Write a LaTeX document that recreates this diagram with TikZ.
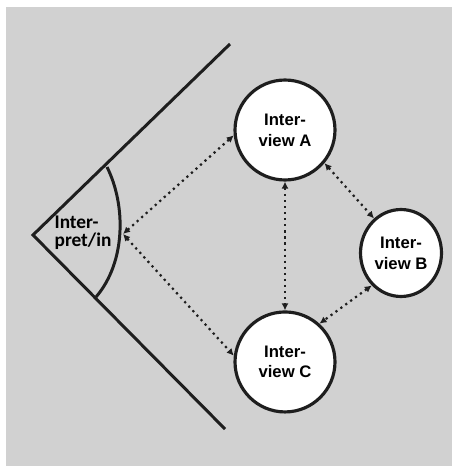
\documentclass[tikz,border=0pt]{standalone}
\usepackage{fontspec}
\setmainfont{Liberation Sans}
\newfontfamily\interpfont{Carlito}
\usepackage{xcolor}
\definecolor{PanelGray}{RGB}{209,209,209}
\definecolor{InkBlack}{RGB}{30,30,30}
\usetikzlibrary{positioning}
\usetikzlibrary{arrows.meta}
\usetikzlibrary{shapes.geometric}

\begin{document}
\begin{tikzpicture}[
    x = 0.02cm, y = -0.02cm
    , n/.style = {
      , circle
      , minimum size = 2cm
      , inner sep = 0pt
      , draw = InkBlack
      , line width = 1.8pt
      , fill = white
      , align = center
      , font = \fontsize{9.5}{11.8}\selectfont\bfseries
    }
    , interview/.style = {
      n
    }
    , wideview/.style = {
      n,
      ellipse,
      minimum width = 1.62cm,
      minimum height = 1.74cm
    }
    , wall/.style = {
      , draw = InkBlack
      , line width = 1.7pt
    }
    , link/.style = {
      , <->
      , >={Latex[length=4pt, width=4pt]}
      , draw = InkBlack
      , line width = 1.25pt
      , dash pattern = on 1.25pt off 2.2pt
    }
    , biglabel/.style = {
      , align = left
      , inner sep = 0pt
      , font = \interpfont\fontsize{11}{10.2}\selectfont\bfseries
    }
    , on grid
    , node distance = 4.64cm
    ]
    \useasboundingbox (0,0) rectangle (452,466);
    \fill[PanelGray] (6,7) rectangle (452,466);

    % the wedge and its arc
    \coordinate (apex) at (33,235);
    \coordinate (upper) at (230,44);
    \coordinate (lower) at (225,429);
    \coordinate (archi) at (107,167);
    \coordinate (arclo) at (96,297);
    \coordinate (focus) at (123,234);

    \draw[wall] (upper) -- (apex) -- (lower);
    \draw[wall] (archi) .. controls (126,205) and (126,262) .. (arclo);

    \node[biglabel] (interp) at (83,233) {Inter-\\pret/in};

    \node[interview] (A) at (285,130) {Inter-\\view A};
    \node[interview, below = of A] (C) {Inter-\\view C};
    \node[wideview] (B) at (401,253) {Inter-\\view B};

    \draw[link] (focus) -- (A.186);
    \draw[link] (focus) -- (C.173);
    \draw[link] (A) -- (C);
    \draw[link] (A.-40) -- (B.128);
    \draw[link] (B.228) -- (C.48);
  \end{tikzpicture}
\end{document}
